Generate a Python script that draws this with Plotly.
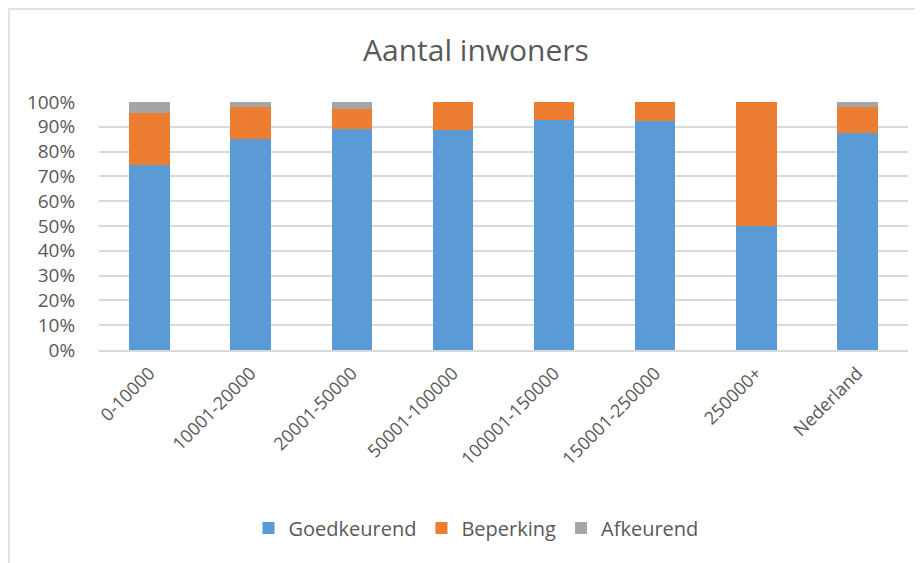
import plotly.graph_objects as go

# categorieën en aandelen (fractie van 1)
categories = ["0-10000", "10001-20000", "20001-50000", "50001-100000",
              "100001-150000", "150001-250000", "250000+", "Nederland"]
goedkeurend = [0.747, 0.852, 0.891, 0.888, 0.929, 0.925, 0.500, 0.876]
beperking = [0.209, 0.126, 0.079, 0.112, 0.071, 0.075, 0.500, 0.105]
afkeurend = [0.044, 0.022, 0.030, 0.000, 0.000, 0.000, 0.000, 0.019]

# de pagina heeft 8px body-marge: figuur begint op (8, 8)
OFF = 8
W, H = 923 - OFF, 563 - OFF
L, R, T, B = 99 - OFF, 15, 102 - OFF, 213
pw, ph = W - L - R, H - T - B

txt = "#595959"
font = "Open Sans, Liberation Sans, sans-serif"

fig = go.Figure()
for name, vals, col in [("Goedkeurend", goedkeurend, "#5b9bd5"),
                        ("Beperking", beperking, "#ed7d31"),
                        ("Afkeurend", afkeurend, "#a5a5a5")]:
    fig.add_trace(go.Bar(x=categories, y=vals, name=name,
                         marker=dict(color=col, line=dict(width=0))))

# kader rond de grafiek
fig.add_shape(type="rect", xref="paper", yref="paper",
              x0=(1 - L) / pw, x1=(W + 20 - L) / pw,
              y0=-(H + 20 - T - ph) / ph, y1=1 + (T - 1) / ph,
              line=dict(color="#d9d9d9", width=1.5))

fig.update_layout(
    width=W, height=H,
    margin=dict(l=L, r=R, t=T, b=B),
    barmode="stack", bargap=0.6,
    plot_bgcolor="white", paper_bgcolor="white",
    font=dict(family=font, color=txt, size=18),
    title=dict(text="Aantal inwoners", x=(476 - 99) / pw,
               xref="paper", xanchor="center",
               y=1 - (50 - OFF) / H, yanchor="middle",
               font=dict(size=30, color=txt, family=font)),
    xaxis=dict(tickangle=-45, showgrid=False, showline=True,
               linecolor="#d9d9d9", linewidth=1.5, ticks="outside",
               ticklen=4, tickcolor="white",
               tickfont=dict(size=18, color=txt)),
    yaxis=dict(range=[0, 1], tickformat=".0%", dtick=0.1,
               gridcolor="#d9d9d9", gridwidth=1.5, zeroline=False,
               showline=False, ticks="outside", ticklen=19,
               tickcolor="white",
               tickfont=dict(size=19, color=txt)),
    legend=dict(orientation="h", x=(476 - 99) / pw, xanchor="center",
                y=-(528 - 102 - 248) / 248, yanchor="middle",
                font=dict(size=20, color=txt), itemwidth=30,
                traceorder="normal"),
)

fig.write_html("out.html")
